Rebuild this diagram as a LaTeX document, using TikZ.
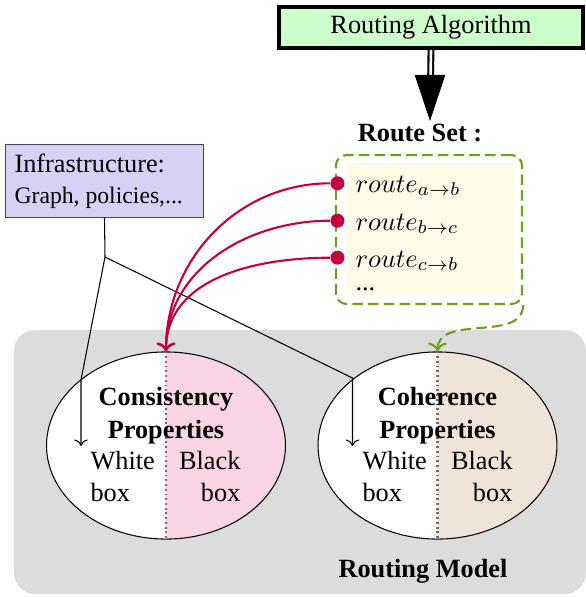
\documentclass[tikz,border=0pt]{standalone}
\usepackage{fontspec}
\setmainfont{Liberation Serif}
\usetikzlibrary{arrows.meta,shapes.geometric}
\definecolor{algfill}{RGB}{204,255,204}
\definecolor{lav}{RGB}{215,210,245}
\definecolor{infraborder}{RGB}{70,70,80}
\definecolor{rsgreen}{RGB}{110,160,30}
\definecolor{rsfill}{RGB}{254,251,232}
\definecolor{crim}{RGB}{195,0,65}
\definecolor{pinkc}{RGB}{248,212,228}
\definecolor{beige}{RGB}{240,228,216}
\definecolor{modelgray}{RGB}{220,220,220}
\tikzset{
  txt/.style={inner sep=0pt},
  btxt/.style={inner sep=0pt, font=\bfseries},
  propell/.style={ellipse, draw, inner sep=0pt, minimum width=90.8pt, minimum height=71.1pt},
  rdot/.style={circle, fill=crim, inner sep=0pt, minimum size=5.3pt},
  rline/.style={crim, line width=0.8pt, ->},
  gline/.style={rsgreen, line width=0.8pt, dash pattern=on 4pt off 2pt, ->},
  divider/.style={gray!85!black, line width=0.8pt, dash pattern=on 0.7pt off 1.1pt},
}
\begin{document}
\begin{tikzpicture}[x=0.38pt,y=-0.38pt]
\useasboundingbox (0,0) rectangle (586,597);

% routing model background
\fill[modelgray, rounded corners=8pt] (14,330) rectangle (586,594);

% consistency ellipse
\fill[white] (166,445.5) ellipse [x radius=119.5, y radius=93.5];
\begin{scope}
  \clip (166,445.5) ellipse [x radius=119.5, y radius=93.5];
  \fill[pinkc] (166,340) rectangle (300,560);
\end{scope}
\node[propell] (cons) at (166,445.5) {};
\draw[divider] (cons.north) -- (cons.south);

% coherence ellipse
\fill[white] (437.5,445.5) ellipse [x radius=119.5, y radius=93.5];
\begin{scope}
  \clip (437.5,445.5) ellipse [x radius=119.5, y radius=93.5];
  \fill[beige] (437.5,340) rectangle (570,560);
\end{scope}
\node[propell] (coh) at (437.5,445.5) {};
\draw[divider] (coh.north) -- (coh.south);

% ellipse texts
\node[btxt, anchor=base] (c1) at (166,405) {Consistency};
\node[btxt, anchor=base] (c2) at (166,438) {Properties};
\node[txt, anchor=base west] (cw1) at (90,469) {White};
\node[txt, anchor=base west] (cw2) at (90,501) {box};
\node[txt, anchor=base east] (cb1) at (241,469) {Black};
\node[txt, anchor=base east] (cb2) at (241,501) {box};

\node[btxt, anchor=base] (h1) at (437.5,405) {Coherence};
\node[btxt, anchor=base] (h2) at (437.5,438) {Properties};
\node[txt, anchor=base west] (hw1) at (362,469) {White};
\node[txt, anchor=base west] (hw2) at (362,501) {box};
\node[txt, anchor=base east] (hb1) at (513,469) {Black};
\node[txt, anchor=base east] (hb2) at (513,501) {box};

\node[btxt, anchor=base] (rm) at (423,577) {Routing Model};

% routing algorithm
\node[draw, line width=1.5pt, fill=algfill, minimum width=115.5pt, minimum height=15.6pt, inner sep=0pt] (ra) at (431,27.5) {Routing Algorithm};
\coordinate (tip) at (430,121);
\node[btxt, anchor=base] (rsl) at (420,141) {Route Set :};
\draw[double, line width=0.8pt, double distance=1pt, shorten >=16pt] (ra.south) -- (tip);
\draw[-{Triangle[length=17.5pt, width=11.5pt]}] ([yshift=17.5pt]tip) -- (tip);

% route set box
\fill[rsfill] (346,163) rectangle (515,295);
\node[draw=rsgreen, line width=0.8pt, dash pattern=on 4pt off 2pt, rounded corners=4pt, minimum width=70.7pt, minimum height=56.6pt, inner sep=0pt] (rs) at (429,229.5) {};
\node[txt, anchor=base west] (r1) at (355,192) {$route_{a\rightarrow b}$};
\node[txt, anchor=base west] (r2) at (355,230) {$route_{b\rightarrow c}$};
\node[txt, anchor=base west] (r3) at (355,267) {$route_{c\rightarrow b}$};
\node[txt, anchor=base west] (r4) at (355,290) {...};

% infrastructure
\node[draw=infraborder, fill=lav, minimum width=75.6pt, minimum height=27.4pt, inner sep=0pt] (infra) at (104.5,181) {};
\node[txt, anchor=base west] (i1) at (14,172) {Infrastructure:};
\node[txt, anchor=base west, font=\small] (i2) at (14,203) {Graph, policies,...};

\coordinate (jn) at (105,257);
\coordinate (lb) at (81,380);
\coordinate (le) at (81,446);
\coordinate (rb) at (352.5,378);
\coordinate (re) at (352.5,446);
\draw (infra.south) -- (jn);
\draw[->] (jn) -- (lb) -- (le);
\draw[->] (jn) -- (rb) -- (re);

% route dots and connectors
\node[rdot] (d1) at (337.5,183.3) {};
\node[rdot] (d2) at (337.5,220.7) {};
\node[rdot] (d3) at (337.5,257.7) {};
\draw[rline] (d1) to[out=180,in=90] (cons.north);
\draw[rline] (d2) to[out=180,in=90] (cons.north);
\draw[rline] (d3) to[out=180,in=90] (cons.north);

\draw[gline] (rs.south east) to[out=-90,in=90] (coh.north);
\end{tikzpicture}
\end{document}
